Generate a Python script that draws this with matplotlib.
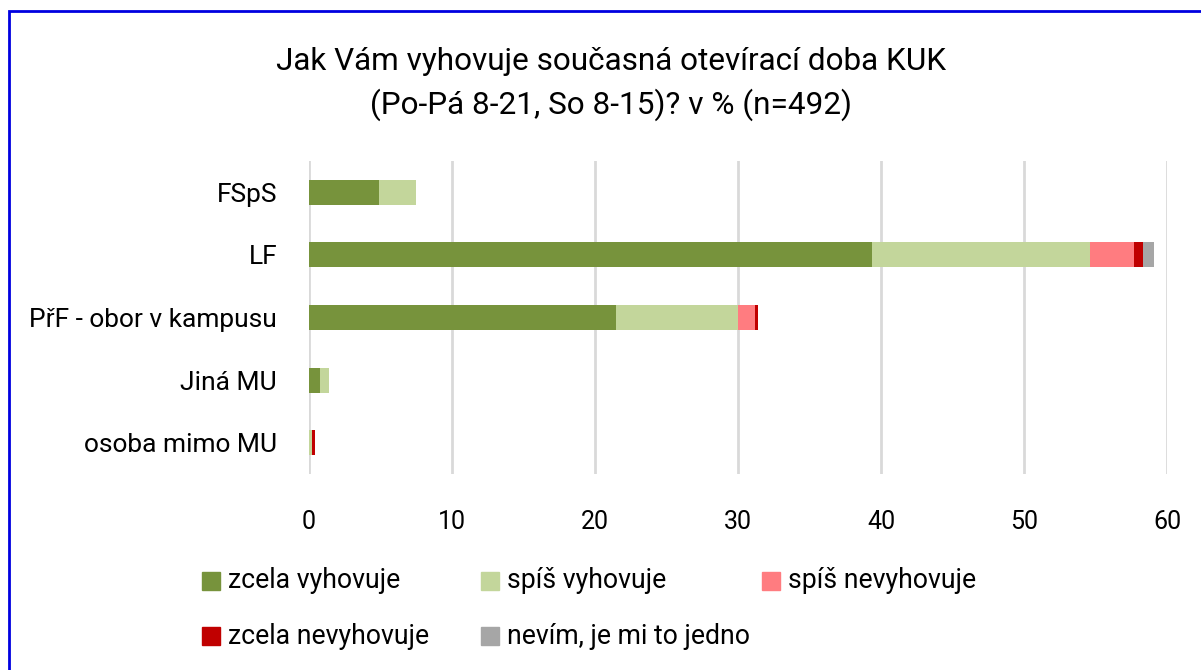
import numpy as np
import matplotlib.pyplot as plt
from matplotlib.patches import Rectangle

plt.rcParams['font.family'] = ['Roboto', 'DejaVu Sans']

# data (in % of n=492)
categories = ['FSpS', 'LF', 'PřF - obor v kampusu', 'Jiná MU', 'osoba mimo MU']
series_names = ['zcela vyhovuje', 'spíš vyhovuje', 'spíš nevyhovuje',
                'zcela nevyhovuje', 'nevím, je mi to jedno']
zcela_vyhovuje = [4.9, 39.4, 21.5, 0.8, 0.0]
spis_vyhovuje = [2.6, 15.2, 8.5, 0.6, 0.2]
spis_nevyhovuje = [0.0, 3.1, 1.2, 0.0, 0.0]
zcela_nevyhovuje = [0.0, 0.6, 0.2, 0.0, 0.2]
nevim = [0.0, 0.8, 0.0, 0.0, 0.0]
series = [zcela_vyhovuje, spis_vyhovuje, spis_nevyhovuje, zcela_nevyhovuje, nevim]
colors = ['#77933C', '#C3D69B', '#FF7C80', '#C00000', '#A6A6A6']

fig = plt.figure(figsize=(12.01, 6.70), dpi=100)
ax = fig.add_axes([309/1201, 1-474/670, (1167-309)/1201, (474-161)/670])

y = np.arange(len(categories))
left = np.zeros(len(categories))
for vals, c, name in zip(series, colors, series_names):
    ax.barh(y, vals, left=left, height=0.4, color=c, label=name, zorder=3)
    left += np.array(vals)

ax.set_xlim(0, 60)
ax.set_ylim(len(categories)-0.5, -0.5)
ax.set_xticks(np.arange(0, 61, 10))
ax.set_yticks(y)
ax.set_yticklabels(categories)
ax.tick_params(axis='x', length=0, pad=26, labelsize=18)
ax.tick_params(axis='y', length=0, pad=23, labelsize=19)
ax.grid(axis='x', color='#D9D9D9', linewidth=2, zorder=0)
for s in ax.spines.values():
    s.set_visible(False)

fig.text(611/1201, 1-62/670, 'Jak Vám vyhovuje současná otevírací doba KUK',
         ha='center', va='center', fontsize=22.7)
fig.text(611/1201, 1-105/670, '(Po-Pá 8-21, So 8-15)? v % (n=492)',
         ha='center', va='center', fontsize=22.7)

# legend, laid out in a 3-column grid like the original
col_x = [202, 481, 762]
row_y = [581, 636]
for i, (name, c) in enumerate(zip(series_names, colors)):
    cx = col_x[i % 3]
    cy = row_y[i // 3]
    fig.patches.append(Rectangle((cx/1201, 1-(cy+9)/670), 18/1201, 18/670,
                                 transform=fig.transFigure, color=c))
    fig.text((cx+26)/1201, 1-cy/670, name, ha='left', va='center', fontsize=19.2)

# chart frame
fig.patches.append(Rectangle((9/1201, -0.1), 1.2, 1.1 - 11/670,
                             transform=fig.transFigure, fill=False,
                             edgecolor='#0000E0', linewidth=2))

fig.savefig('out.png', dpi=100)
